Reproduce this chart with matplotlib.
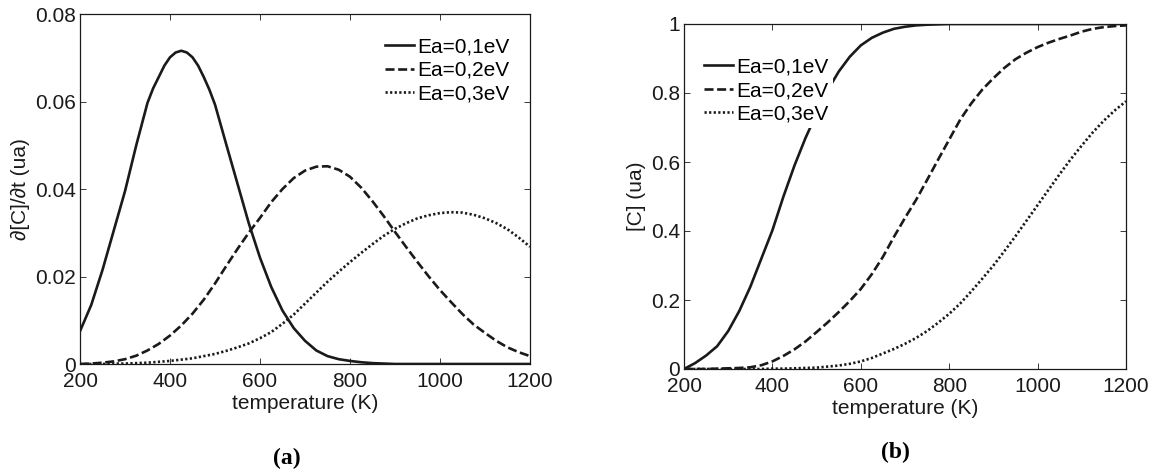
import matplotlib
matplotlib.use("Agg")
import matplotlib.pyplot as plt
from matplotlib.ticker import FuncFormatter, MultipleLocator

plt.rcParams['font.family'] = ['Liberation Sans', 'DejaVu Sans']
plt.rcParams['lines.scale_dashes'] = False

# temperature grid (K)
temperature = [200, 225, 250, 275, 300, 325, 350, 375, 400, 425, 450, 475, 500,
               525, 550, 575, 600, 625, 650, 675, 700, 725, 750, 775, 800,
               825, 850, 875, 900, 925, 950, 975, 1000, 1025, 1050, 1075,
               1100, 1125, 1150, 1175, 1200]

# finer grid used around the sharp peak of the Ea=0,1eV rate curve
temperature_01 = [200, 225, 250, 275, 300, 325, 350, 362.5, 375, 387.5, 400,
                  412.5, 425, 437.5, 450, 462.5, 475, 487.5, 500, 525, 550,
                  575, 600, 625, 650, 675, 700, 725, 750, 775, 800, 825, 850,
                  875, 900, 1000, 1100, 1200]

labels = ["Ea=0,1eV", "Ea=0,2eV", "Ea=0,3eV"]

# (a) rate d[C]/dt
rate_01 = [0.0075, 0.0135, 0.0215, 0.0305, 0.0395, 0.0500, 0.0597, 0.0630,
           0.0656, 0.0682, 0.0701, 0.0712, 0.0716, 0.0712, 0.0701, 0.0682,
           0.0656, 0.0627, 0.0593, 0.0502, 0.0412, 0.0322, 0.0243, 0.0176,
           0.0122, 0.0082, 0.0053, 0.0031, 0.0018, 0.0011, 0.0007, 0.0004,
           0.0002, 0.0001, 0.0, 0.0, 0.0, 0.0]
rate_02 = [0.0000, 0.0001, 0.0003, 0.0006, 0.0011, 0.0019, 0.0031, 0.0046,
           0.0065, 0.0088, 0.0115, 0.0147, 0.0184, 0.0224, 0.0263, 0.0300,
           0.0334, 0.0370, 0.0400, 0.0425, 0.0442, 0.0451, 0.0452, 0.0444,
           0.0428, 0.0403, 0.0372, 0.0338, 0.0302, 0.0267, 0.0233, 0.0200,
           0.0169, 0.0141, 0.0114, 0.0090, 0.0071, 0.0053, 0.0038, 0.0027,
           0.0018]
rate_03 = [0.0000, 0.0000, 0.0000, 0.0001, 0.0001, 0.0002, 0.0003, 0.0005,
           0.0007, 0.0010, 0.0013, 0.0018, 0.0023, 0.0030, 0.0038, 0.0047,
           0.0059, 0.0073, 0.0092, 0.0113, 0.0138, 0.0163, 0.0188, 0.0211,
           0.0233, 0.0254, 0.0274, 0.0293, 0.0309, 0.0322, 0.0333, 0.0340,
           0.0345, 0.0347, 0.0346, 0.0341, 0.0333, 0.0322, 0.0308, 0.0289,
           0.0268]

# (b) concentration [C]
conc_01 = [0.000, 0.017, 0.039, 0.066, 0.110, 0.168, 0.238, 0.320, 0.402,
           0.500, 0.590, 0.670, 0.740, 0.808, 0.862, 0.905, 0.938, 0.960,
           0.975, 0.986, 0.992, 0.996, 0.998, 0.999, 1.000, 1.000, 1.000,
           1.000, 1.000, 1.000, 1.000, 1.000, 1.000, 1.000, 1.000, 1.000,
           1.000, 1.000, 1.000, 1.000, 1.000]
conc_02 = [0.000, 0.000, 0.000, 0.001, 0.002, 0.003, 0.005, 0.011, 0.022,
           0.038, 0.057, 0.080, 0.107, 0.135, 0.165, 0.197, 0.232, 0.275,
           0.325, 0.383, 0.438, 0.490, 0.548, 0.607, 0.665, 0.723, 0.770,
           0.810, 0.843, 0.873, 0.898, 0.917, 0.933, 0.946, 0.957, 0.967,
           0.978, 0.986, 0.991, 0.994, 0.996]
conc_03 = [0.000, 0.000, 0.000, 0.000, 0.000, 0.000, 0.000, 0.000, 0.001,
           0.001, 0.002, 0.003, 0.004, 0.007, 0.010, 0.015, 0.022, 0.032,
           0.045, 0.058, 0.073, 0.090, 0.110, 0.134, 0.160, 0.190, 0.225,
           0.262, 0.300, 0.342, 0.385, 0.430, 0.475, 0.520, 0.565, 0.608,
           0.648, 0.686, 0.720, 0.750, 0.776]

LW = 1.9
INK = '#1a1a1a'
styles = [
    dict(linestyle='-'),
    dict(linestyle=(0, (6.5, 2.6))),
    dict(linestyle=(0, (1.6, 1.7))),
]
FS = 15

fig = plt.figure(figsize=(11.49, 4.72), dpi=100)
ax1 = fig.add_axes([80 / 1149, 1 - 364 / 472, 450 / 1149, 350 / 472])
ax2 = fig.add_axes([684 / 1149, 1 - 369 / 472, 442 / 1149, 345 / 472])

rate_x = [temperature_01, temperature, temperature]
for xs, ys, st, lab in zip(rate_x, [rate_01, rate_02, rate_03], styles, labels):
    ax1.plot(xs, ys, color=INK, lw=LW, label=lab,
             dash_capstyle='butt', solid_joinstyle='round', **st)
for ys, st, lab in zip([conc_01, conc_02, conc_03], styles, labels):
    ax2.plot(temperature, ys, color=INK, lw=LW, label=lab,
             dash_capstyle='butt', solid_joinstyle='round', **st)

fmt = FuncFormatter(lambda v, p: f"{v:g}")
for ax in (ax1, ax2):
    ax.set_xlim(200, 1200)
    ax.xaxis.set_major_locator(MultipleLocator(200))
    ax.yaxis.set_major_formatter(fmt)
    ax.tick_params(direction='in', top=True, right=True, length=4,
                   width=0.6, labelsize=FS, colors=INK)
    ax.tick_params(axis='x', pad=6)
    ax.tick_params(axis='y', pad=3)
    for s in ax.spines.values():
        s.set_linewidth(0.9)
        s.set_color(INK)
    ax.set_xlabel("temperature (K)", fontsize=FS, color=INK, labelpad=2)

ax1.set_ylim(0, 0.08)
ax1.yaxis.set_major_locator(MultipleLocator(0.02))
ax2.set_ylim(0, 1)
ax2.yaxis.set_major_locator(MultipleLocator(0.2))

ax1.set_ylabel("∂[C]/∂t (ua)", fontsize=FS, color=INK)
ax1.yaxis.set_label_coords(-0.111, 0.5)
ax2.set_ylabel("[C] (ua)", fontsize=FS, color=INK)
ax2.yaxis.set_label_coords(-0.086, 0.5)

leg_kw = dict(loc='upper left', fontsize=FS, frameon=True, fancybox=False,
              framealpha=1, edgecolor='none', facecolor='white',
              handlelength=1.4, handletextpad=0.15, labelspacing=0.22,
              borderpad=0.2, borderaxespad=0)
ax1.legend(bbox_to_anchor=(0.669, 0.945), **leg_kw)
ax2.legend(bbox_to_anchor=(0.036, 0.915), **leg_kw)

fig.text(287 / 1149, 1 - 458 / 472, "(a)", ha='center', va='center',
         fontsize=17, fontweight='bold', family='Liberation Serif')
fig.text(895 / 1149, 1 - 452 / 472, "(b)", ha='center', va='center',
         fontsize=17, fontweight='bold', family='Liberation Serif')

fig.savefig("out.png", dpi=100)
